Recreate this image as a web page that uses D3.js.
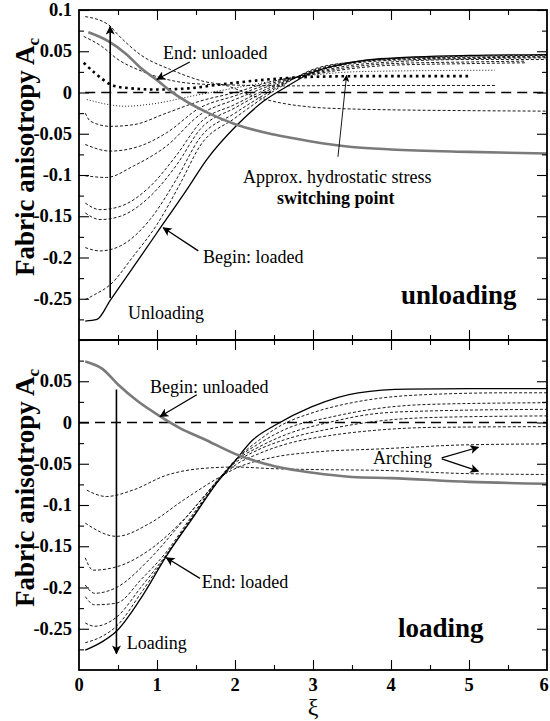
<!DOCTYPE html>
<html><head><meta charset="utf-8">
<script src="https://cdn.jsdelivr.net/npm/d3@7"></script>
<style>
html,body{margin:0;padding:0;background:#fff;}
text{font-family:"Liberation Serif","Times New Roman",serif;fill:#000;}
</style></head>
<body><svg id="c" width="550" height="721"></svg>
<script>
// ---------- DATA (xi, A_c) ----------
// Top panel: unloading
const topGrayUnloaded = [[0.12,0.073],[0.38,0.062],[0.6,0.047],[0.8,0.029],[1.0,0.015],[1.17,0.002],[1.66,-0.025],[2.02,-0.039],[2.5,-0.051],[2.96,-0.059],[3.5,-0.066],[4,-0.069],[5,-0.072],[6,-0.074]];
const topSolidLoaded = [[0.08,-0.277],[0.23,-0.275],[0.4,-0.252],[0.7,-0.211],[1.0,-0.170],[1.38,-0.118],[1.64,-0.081],[2.02,-0.040],[2.36,-0.011],[2.66,0.007],[2.96,0.023],[3.47,0.036],[3.86,0.041],[5,0.045],[6,0.046]];
const topDashA = [[0.08,0.092],[0.38,0.082],[0.5,0.070],[0.8,0.045],[1.17,0.028],[1.59,0.0137],[1.9,0.008],[2.23,-0.004],[2.58,-0.0125],[2.96,-0.0175],[3.5,-0.020],[4,-0.021],[5,-0.022],[6,-0.0226]];
const topDashB = [[0.06,0.068],[0.29,0.056],[0.5,0.040],[0.8,0.026],[1.23,0.0137],[1.6,0.010],[2.0,0.009],[2.58,0.0080],[3.5,0.0085],[5.35,0.0085]];
const topThickDot = [[0.06,0.036],[0.2,0.024],[0.4,0.010],[0.59,0.0057],[1.0,0.0036],[1.4,0.005],[1.81,0.0097],[2.45,0.016],[3.0,0.019],[3.6,0.0198],[5.03,0.0198]];
const topFineDot = [[0.1,-0.0085],[0.59,-0.0166],[1.0,-0.013],[1.44,-0.0045],[1.8,0.002],[2.2,0.009],[2.5,0.014],[3.0,0.021],[3.5,0.025],[4,0.026],[5.33,0.027]];
const topDash04 = [[0.08,-0.025],[0.15,-0.035],[0.4,-0.041],[0.7,-0.039],[1.12,-0.025],[1.55,-0.0105],[2.0,0.0],[2.5,0.014],[3,0.022],[3.5,0.029],[4,0.033],[5,0.035],[5.72,0.036]];
const topDash07 = [[0.08,-0.063],[0.4,-0.071],[0.78,-0.065],[1.12,-0.049],[1.55,-0.0186],[2.0,-0.004],[2.5,0.012],[3,0.023],[3.5,0.031],[4,0.035],[5,0.037],[5.72,0.038]];
const topDash10 = [[0.08,-0.101],[0.35,-0.103],[0.7,-0.089],[1.12,-0.065],[1.55,-0.027],[2.0,-0.0085],[2.5,0.010],[3,0.024],[3.5,0.033],[4,0.037],[5,0.040],[6,0.040]];
const topDash14 = [[0.08,-0.134],[0.27,-0.142],[0.53,-0.138],[0.91,-0.114],[1.25,-0.076],[1.55,-0.037],[2.0,-0.0145],[2.5,0.008],[3,0.025],[3.5,0.035],[4,0.039],[5,0.041],[6,0.042]];
const topDash15 = [[0.08,-0.146],[0.27,-0.154],[0.53,-0.150],[0.91,-0.126],[1.25,-0.088],[1.55,-0.045],[2.0,-0.0186],[2.5,0.006],[3,0.026],[3.5,0.036],[4,0.040],[5,0.042],[6,0.043]];
const topDash19 = [[0.08,-0.188],[0.27,-0.192],[0.53,-0.186],[0.91,-0.154],[1.25,-0.105],[1.55,-0.055],[2.0,-0.025],[2.5,0.004],[3,0.027],[3.5,0.037],[4,0.041],[5,0.043],[6,0.044]];
const topDash25 = [[0.08,-0.251],[0.2,-0.245],[0.4,-0.233],[0.7,-0.198],[1.0,-0.160],[1.3,-0.110],[1.55,-0.065],[2.0,-0.031],[2.5,0.002],[3,0.028],[3.5,0.037],[4,0.041],[5,0.044],[6,0.045]];

// Bottom panel: loading
const botGrayUnloaded = [[0.08,0.074],[0.3,0.065],[0.5,0.046],[0.75,0.026],[1.04,0.0075],[1.3,-0.007],[1.6,-0.020],[2.0,-0.038],[2.51,-0.053],[3,-0.061],[3.5,-0.066],[4,-0.0674],[5,-0.072],[6,-0.0743]];
const botSolidLoaded = [[0.08,-0.276],[0.31,-0.265],[0.48,-0.253],[0.78,-0.215],[1.12,-0.162],[1.47,-0.114],[1.77,-0.073],[1.98,-0.049],[2.23,-0.021],[2.5,-0.004],[2.98,0.019],[3.58,0.036],[4.22,0.0405],[5,0.041],[6,0.041]];
const botDash1 = [[0.1,-0.082],[0.35,-0.0897],[0.69,-0.082],[1.12,-0.064],[1.55,-0.056],[2.0,-0.054],[2.5,-0.056],[3,-0.057],[3.86,-0.058],[5,-0.062],[6,-0.063]];
const botDash2 = [[0.08,-0.122],[0.48,-0.138],[0.91,-0.122],[1.34,-0.094],[1.77,-0.068],[2.0,-0.056],[2.5,-0.042],[3.0,-0.036],[3.86,-0.032],[5,-0.027],[6,-0.026]];
const botDash3 = [[0.08,-0.164],[0.18,-0.179],[0.48,-0.175],[0.91,-0.154],[1.34,-0.118],[1.77,-0.072],[2.0,-0.052],[2.3,-0.038],[2.7,-0.025],[3.2,-0.016],[3.86,-0.009],[4.5,-0.006],[6,-0.005]];
const botDash4 = [[0.08,-0.197],[0.2,-0.207],[0.48,-0.200],[0.9,-0.166],[1.3,-0.123],[1.6,-0.090],[1.85,-0.062],[2.0,-0.049],[2.3,-0.033],[2.7,-0.019],[3.2,-0.008],[3.86,0.002],[4.5,0.006],[6,0.008]];
const botDash5 = [[0.08,-0.211],[0.2,-0.221],[0.48,-0.219],[0.8,-0.190],[1.12,-0.157],[1.47,-0.110],[1.77,-0.071],[2.0,-0.047],[2.3,-0.030],[2.7,-0.013],[3.2,0.000],[3.86,0.0113],[4.5,0.014],[6,0.016]];
const botDash6 = [[0.08,-0.243],[0.2,-0.247],[0.48,-0.236],[0.8,-0.199],[1.12,-0.160],[1.47,-0.112],[1.77,-0.072],[2.0,-0.046],[2.3,-0.026],[2.7,-0.006],[3.2,0.006],[3.86,0.0174],[4.5,0.022],[6,0.024]];
const botDash7 = [[0.08,-0.267],[0.3,-0.259],[0.48,-0.247],[0.8,-0.206],[1.12,-0.161],[1.47,-0.113],[1.77,-0.073],[2.0,-0.046],[2.3,-0.022],[2.6,-0.003],[3.0,0.012],[3.5,0.024],[3.86,0.0295],[4.5,0.034],[5.5,0.036],[6,0.036]];

// Axis ticks
const xMajor = [0,1,2,3,4,5,6];
const xMinor = [0.5,1.5,2.5,3.5,4.5,5.5];
const xTickLabels = ["0","1","2","3","4","5","6"];
const yMajor = [-0.25,-0.2,-0.15,-0.1,-0.05,0,0.05,0.1];
const yMinor = [-0.275,-0.225,-0.175,-0.125,-0.075,-0.025,0.025,0.075];
const yTickLabels = ["-0.25","-0.2","-0.15","-0.1","-0.05","0","0.05","0.1"];

// ---------- DRAW ----------
const svg = d3.select("#c");
const X0=79, X1=547;
const x = d3.scaleLinear([0,6],[X0,X1]);
const yT = d3.scaleLinear([-0.3,0.1],[340,10]);
const yB = d3.scaleLinear([-0.3,0.1],[670,340]);

const defs = svg.append("defs");
defs.append("marker").attr("id","ah").attr("viewBox","0 0 10 10").attr("refX",9).attr("refY",5)
  .attr("markerWidth",11).attr("markerHeight",9).attr("markerUnits","userSpaceOnUse").attr("orient","auto")
  .append("path").attr("d","M0,0 L10,5 L0,10 L2.5,5 Z").attr("fill","#000");
defs.append("marker").attr("id","ahs").attr("viewBox","0 0 10 10").attr("refX",9).attr("refY",5)
  .attr("markerWidth",9).attr("markerHeight",7).attr("markerUnits","userSpaceOnUse").attr("orient","auto")
  .append("path").attr("d","M0,0 L10,5 L0,10 L2.5,5 Z").attr("fill","#000");

const styles = {
  gray:{stroke:"#7a7a7a",w:2.6,dash:null},
  solid:{stroke:"#000",w:1.3,dash:null},
  dash:{stroke:"#000",w:0.9,dash:"3,2"},
  thickdot:{stroke:"#000",w:2.6,dash:"2.6,3.6"},
  finedot:{stroke:"#000",w:0.9,dash:"1,2"},
  zero:{stroke:"#000",w:1.3,dash:"10,6"}
};

function panel(y, series, zeroFrom){
  const g = svg.append("g");
  const line = d3.line().x(d=>x(d[0])).y(d=>y(d[1])).curve(d3.curveMonotoneX);
  g.append("path").attr("d", d3.line().x(d=>x(d[0])).y(d=>y(d[1]))([[zeroFrom,0],[6,0]]))
    .attr("fill","none").attr("stroke",styles.zero.stroke).attr("stroke-width",styles.zero.w).attr("stroke-dasharray",styles.zero.dash);
  series.forEach(([data,st])=>{
    const s=styles[st];
    g.append("path").attr("d",line(data)).attr("fill","none").attr("stroke",s.stroke)
      .attr("stroke-width",s.w).attr("stroke-dasharray",s.dash).attr("stroke-linejoin","round");
  });
  const [ylo,yhi] = [y(-0.3), y(0.1)];
  g.append("g").attr("transform",`translate(${X0},0)`).call(d3.axisLeft(y).tickValues(yMajor).tickSize(-10).tickFormat(""));
  g.append("g").attr("transform",`translate(${X0},0)`).call(d3.axisLeft(y).tickValues(yMinor).tickSize(-5).tickFormat(""));
  g.append("g").attr("transform",`translate(${X1},0)`).call(d3.axisRight(y).tickValues(yMajor).tickSize(-10).tickFormat(""));
  g.append("g").attr("transform",`translate(${X1},0)`).call(d3.axisRight(y).tickValues(yMinor).tickSize(-5).tickFormat(""));
  g.append("g").attr("transform",`translate(0,${ylo})`).call(d3.axisBottom(x).tickValues(xMajor.slice(1,-1)).tickSize(-10).tickFormat(""));
  g.append("g").attr("transform",`translate(0,${ylo})`).call(d3.axisBottom(x).tickValues(xMinor).tickSize(-5).tickFormat(""));
  g.append("g").attr("transform",`translate(0,${yhi})`).call(d3.axisTop(x).tickValues(xMajor.slice(1,-1)).tickSize(-10).tickFormat(""));
  g.append("g").attr("transform",`translate(0,${yhi})`).call(d3.axisTop(x).tickValues(xMinor).tickSize(-5).tickFormat(""));
  g.selectAll(".domain").remove();
  g.selectAll(".tick line").attr("stroke","#000").attr("stroke-width",1.1);
  g.append("rect").attr("x",X0).attr("y",yhi).attr("width",X1-X0).attr("height",ylo-yhi)
    .attr("fill","none").attr("stroke","#000").attr("stroke-width",1.8);
  return g;
}

panel(yT, [
  [topDashA,"dash"],[topDashB,"dash"],[topThickDot,"thickdot"],[topFineDot,"finedot"],
  [topDash04,"dash"],[topDash07,"dash"],[topDash10,"dash"],[topDash14,"dash"],[topDash15,"dash"],
  [topDash19,"dash"],[topDash25,"dash"],[topSolidLoaded,"solid"],[topGrayUnloaded,"gray"]
], 0.08);
panel(yB, [
  [botDash1,"dash"],[botDash2,"dash"],[botDash3,"dash"],[botDash4,"dash"],[botDash5,"dash"],
  [botDash6,"dash"],[botDash7,"dash"],[botSolidLoaded,"solid"],[botGrayUnloaded,"gray"]
], 0);

function yLabels(y, vals){
  svg.append("g").selectAll("text").data(vals).join("text")
    .attr("x",72).attr("y",d=>y(d)+6).attr("text-anchor","end")
    .attr("font-size",18.5).attr("font-weight","bold")
    .text(d=>yTickLabels[yMajor.indexOf(d)]);
}
yLabels(yT, yMajor);
yLabels(yB, yMajor.slice(0,-1));

svg.append("g").selectAll("text").data(xMajor).join("text")
  .attr("x",d=>Math.min(x(d), 544)).attr("y",691).attr("text-anchor","middle")
  .attr("font-size",18.5).attr("font-weight","bold").text((d,i)=>xTickLabels[i]);
svg.append("text").attr("x",x(3)).attr("y",715).attr("text-anchor","middle").attr("font-size",24).text("ξ");

function yTitle(cy){
  const t = svg.append("text").attr("transform",`translate(34,${cy}) rotate(-90)`)
    .attr("text-anchor","middle").attr("font-size",27).attr("font-weight","bold");
  t.append("tspan").text("Fabric anisotropy A");
  t.append("tspan").attr("font-size",17).attr("dy",5).text("c");
}
yTitle(157); yTitle(488);

function arrow(y, a, b, marker, w){
  svg.append("line").attr("x1",x(a[0])).attr("y1",y(a[1])).attr("x2",x(b[0])).attr("y2",y(b[1]))
    .attr("stroke","#000").attr("stroke-width",w||1.3).attr("marker-end",`url(#${marker||"ah"})`);
}
function label(y, p, txt, size, bold){
  svg.append("text").attr("x",x(p[0])).attr("y",y(p[1])).attr("font-size",size||18)
    .attr("font-weight",bold?"bold":"normal").text(txt);
}
// top
arrow(yT,[0.4,-0.249],[0.4,0.080],"ah",1.6);
arrow(yT,[1.42,0.037],[1.0,0.016]);
arrow(yT,[3.32,-0.078],[3.43,0.0206],"ahs",0.9);
arrow(yT,[1.53,-0.192],[1.08,-0.164]);
label(yT,[(163-79)/78,(93-59)/825],"End: unloaded");
label(yT,[(243-79)/78,(93-183)/825],"Approx. hydrostatic stress");
label(yT,[(277-79)/78,(93-204)/825],"switching point",18,true);
label(yT,[(203-79)/78,(93-263)/825],"Begin: loaded");
label(yT,[(128-79)/78,(93-319)/825],"Unloading");
label(yT,[(401-79)/78,(93-304)/825],"unloading",27,true);
// bottom
arrow(yB,[0.48,0.040],[0.48,-0.280],"ah",1.6);
arrow(yB,[1.51,0.0336],[1.04,0.0073]);
arrow(yB,[1.55,-0.189],[1.12,-0.164]);
arrow(yB,[4.65,-0.043],[5.12,-0.030]);
arrow(yB,[4.65,-0.044],[5.12,-0.059]);
label(yB,[(150-79)/78,(422.7-393)/825],"Begin: unloaded");
label(yB,[(201.7-79)/78,(422.7-588)/825],"End: loaded");
label(yB,[(126.7-79)/78,(422.7-649)/825],"Loading");
label(yB,[(373-79)/78,(422.7-464)/825],"Arching");
label(yB,[(398-79)/78,(422.7-637)/825],"loading",27,true);
</script></body></html>
